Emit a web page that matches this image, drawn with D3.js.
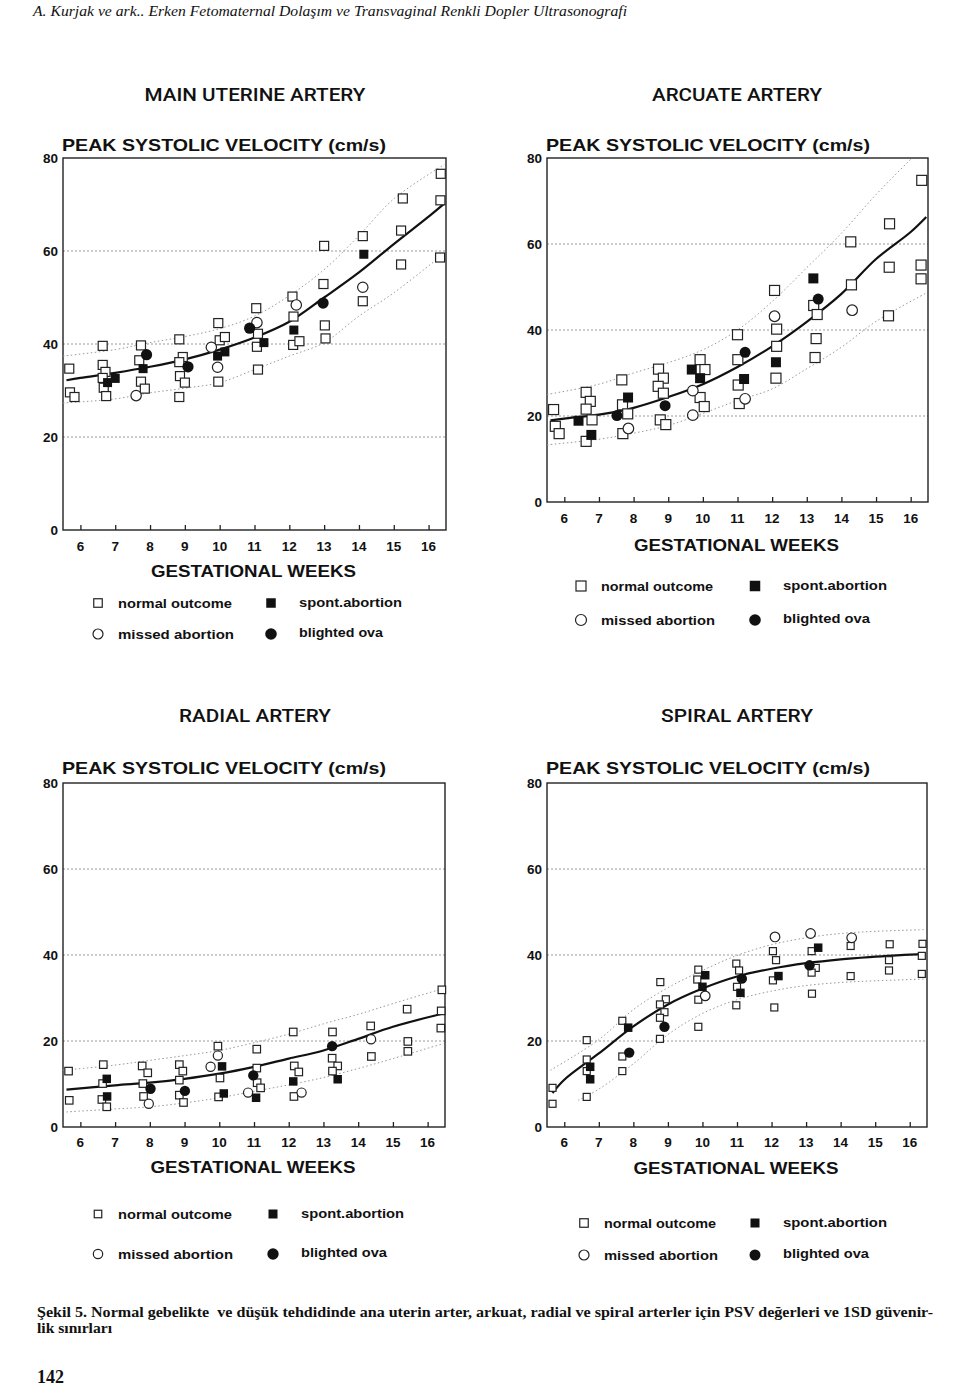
<!DOCTYPE html>
<html>
<head>
<meta charset="utf-8">
<script src="https://cdnjs.cloudflare.com/ajax/libs/d3/7.8.5/d3.min.js"></script>
<style>
  body { margin: 0; background: #fff; }
  svg { display: block; }
  .sans { font-family: "Liberation Sans", Arial, sans-serif; font-weight: bold; fill: #111; }
  .title { font-family: Roboto, "Liberation Sans", sans-serif; font-weight: 500; fill: #111; }
  .serif { font-family: "Liberation Serif", "Times New Roman", serif; fill: #111; white-space: pre; }
</style>
</head>
<body>
<script>
// axis ticks
var weekTicks = [6, 7, 8, 9, 10, 11, 12, 13, 14, 15, 16];
var psvTicks = [0, 20, 40, 60, 80];
var gridTicks = [20, 40, 60];

// MAIN UTERINE ARTERY  [week, cm/s]
var uterineNormal = [[5.68,34.7],[5.7,29.6],[5.83,28.6],[6.64,39.6],[6.64,35.5],[6.72,34.0],[6.64,32.7],[6.67,30.6],[6.74,28.8],
  [7.74,39.7],[7.69,36.5],[7.74,31.9],[7.85,30.4],[8.84,41.0],[8.94,37.2],[8.84,36.1],[8.86,33.1],[9.0,31.7],[8.84,28.6],
  [9.96,44.5],[10.0,40.8],[10.15,41.5],[9.96,31.9],[11.05,47.7],[11.1,42.2],[11.07,39.4],[11.1,34.5],
  [12.09,50.2],[12.12,45.9],[12.11,39.8],[12.29,40.6],[13.0,61.1],[12.98,52.9],[13.02,44.0],[13.04,41.2],
  [14.11,63.2],[14.11,49.2],[15.26,71.3],[15.21,64.4],[15.21,57.1],[16.35,76.6],[16.34,70.9],[16.33,58.6]];
var uterineMissed = [[7.6,28.9],[9.76,39.3],[9.94,35.0],[11.07,44.6],[12.2,48.4],[14.11,52.2]];
var uterineSpont = [[6.78,31.7],[7.0,32.6],[7.8,34.7],[9.94,37.4],[10.15,38.3],[11.27,40.3],[12.13,43.0],[14.14,59.3]];
var uterineBlighted = [[7.9,37.7],[9.09,35.1],[10.86,43.4],[12.97,48.8]];
var uterineFit = [[5.6,32.2],[6,32.7],[7,33.8],[8,35.1],[9,36.7],[10,38.8],[11,41.4],[12,44.8],[13,50.0],[14,55.4],[15,61.5],[16,67.4],[16.45,70.2]];
var uterineUpper = [[5.5,37.4],[7,38.8],[8,40.3],[9,41.6],[10,43.3],[11,46.0],[12,50.4],[13,56.0],[14,63.3],[15,71.2],[16.45,78.6]];
var uterineLower = [[5.5,27.3],[7,28.2],[8,29.5],[9,30.5],[10,31.7],[11,34.5],[12,37.4],[13,40.3],[14,46.0],[15,51.0],[16.45,59.5]];

// ARCUATE ARTERY
var arcuateNormal = [[5.69,21.5],[5.74,17.6],[5.85,15.9],[6.63,25.5],[6.75,23.4],[6.63,21.6],[6.8,19.1],[6.63,14.1],
  [7.66,28.4],[7.68,22.6],[7.83,20.5],[7.69,15.9],[8.72,30.9],[8.86,28.8],[8.71,26.9],[8.86,25.3],[8.77,19.1],[8.93,18.0],
  [9.92,33.1],[10.06,30.8],[9.92,24.3],[10.04,22.2],[11.0,38.9],[11.01,33.1],[11.02,27.2],[11.05,22.9],
  [12.07,49.2],[12.13,40.2],[12.13,36.2],[12.11,28.8],[13.2,45.7],[13.3,43.6],[13.27,38.0],[13.24,33.6],
  [14.27,60.5],[14.29,50.5],[15.39,64.7],[15.38,54.6],[15.36,43.3],[16.32,74.8],[16.3,55.1],[16.3,51.9]];
var arcuateMissed = [[7.85,17.1],[9.71,25.9],[9.71,20.2],[11.22,24.0],[12.07,43.2],[14.31,44.6]];
var arcuateSpont = [[6.41,18.9],[6.78,15.6],[7.84,24.3],[9.68,30.8],[9.92,28.8],[11.19,28.6],[12.11,32.5],[13.19,52.0]];
var arcuateBlighted = [[7.52,20.1],[8.91,22.4],[11.22,34.8],[13.33,47.2]];
var arcuateFit = [[5.6,19.0],[6,19.4],[7,20.3],[8,21.9],[9,24.4],[10,27.4],[11,31.4],[12,36.2],[13,41.9],[14,48.4],[15,56.5],[16,62.8],[16.45,66.3]];
var arcuateUpper = [[5.5,25.0],[7,27.4],[8,30.0],[9,32.4],[10,35.4],[11,40.0],[12,46.6],[13,54.5],[14,62.5],[15,71.5],[16.1,80.5]];
var arcuateLower = [[5.5,13.3],[7,14.6],[8,16.0],[9,17.8],[10,20.6],[11,23.6],[12,26.3],[13,31.0],[14,36.0],[15,42.0],[16.45,48.6]];

// RADIAL ARTERY
var radialNormal = [[5.66,13.0],[5.68,6.2],[6.66,14.5],[6.64,10.1],[6.62,6.4],[6.76,4.7],[7.78,14.2],[7.94,12.6],[7.8,10.1],[7.82,7.1],
  [8.85,14.5],[8.95,13.0],[8.85,10.9],[8.85,7.4],[8.97,5.7],[9.96,18.8],[10.02,11.4],[9.98,7.0],
  [11.08,18.1],[11.08,13.7],[11.09,10.3],[11.19,9.1],[12.13,22.1],[12.16,14.2],[12.29,12.8],[12.15,7.1],
  [13.26,22.1],[13.25,16.0],[13.41,14.2],[13.26,13.0],[14.36,23.5],[14.38,16.4],[15.41,27.4],[15.43,19.9],[15.43,17.6],
  [16.41,31.9],[16.39,27.0],[16.38,23.0]];
var radialMissed = [[7.97,5.4],[9.75,14.0],[9.96,16.6],[10.83,8.0],[12.37,8.0],[14.37,20.4]];
var radialSpont = [[6.76,11.2],[6.77,7.1],[10.08,14.1],[10.13,7.8],[11.06,6.8],[12.13,10.6],[13.41,11.1]];
var radialBlighted = [[8.02,8.9],[9.01,8.4],[10.98,12.0],[13.25,18.8]];
var radialFit = [[5.6,8.7],[7,9.7],[8,10.3],[9,11.2],[10,12.4],[11,14.0],[12,15.9],[13,17.8],[14,20.5],[15,23.3],[16.45,26.4]];
var radialUpper = [[5.5,13.2],[7,14.4],[8,15.5],[9,16.6],[10,17.8],[11,19.6],[12,21.6],[13,24.0],[14,26.2],[15,28.7],[16.45,32.2]];
var radialLower = [[5.6,3.5],[7,4.2],[8,4.7],[9,5.6],[10,6.8],[11,8.3],[12,9.8],[13,11.5],[14,13.6],[15,15.9],[16.45,19.4]];

// SPIRAL ARTERY
var spiralNormal = [[5.66,9.1],[5.66,5.4],[6.65,20.2],[6.65,15.7],[6.65,13.0],[6.65,7.0],[7.68,24.7],[7.68,16.4],[7.68,13.0],
  [8.78,33.7],[8.94,29.7],[8.77,28.5],[8.9,26.7],[8.77,25.4],[8.77,20.5],[9.88,36.6],[9.85,34.3],[9.88,29.6],[9.88,23.3],
  [10.98,38.0],[11.06,36.4],[11.0,32.6],[10.98,28.3],[12.04,40.9],[12.13,38.8],[12.04,34.1],[12.08,27.8],
  [13.16,40.9],[13.28,37.0],[13.16,35.9],[13.17,31.0],[14.29,42.1],[14.29,35.1],[15.42,42.5],[15.4,38.8],[15.4,36.4],
  [16.37,42.6],[16.35,39.8],[16.35,35.6]];
var spiralMissed = [[10.08,30.5],[12.1,44.2],[13.13,45.0],[14.32,44.0]];
var spiralSpont = [[6.75,14.0],[6.75,11.1],[7.85,23.1],[10.08,35.3],[10.0,32.6],[11.1,31.2],[12.2,35.1],[13.35,41.7]];
var spiralBlighted = [[7.88,17.3],[8.9,23.3],[11.14,34.5],[13.1,37.6]];
var spiralFit = [[5.66,7.9],[6,11.0],[7,17.1],[8,23.4],[9,28.5],[10,32.2],[11,35.0],[12,36.8],[13,38.1],[14,39.0],[15,39.6],[16,40.1],[16.45,40.2]];
var spiralUpper = [[5.6,13.2],[7,20.3],[8,27.3],[9,32.4],[10,36.4],[11,39.9],[12,42.4],[13,44.0],[14,45.0],[15,45.5],[16.45,45.9]];
var spiralLower = [[6.4,6.2],[7,8.8],[8,14.7],[9,21.5],[10,26.4],[11,29.6],[12,31.6],[13,32.9],[14,33.6],[15,34.0],[16.45,34.4]];

var W = 960, H = 1388;
var svg = d3.select('body').append('svg').attr('width', W).attr('height', H);

// page header and caption
svg.append('text').attr('class', 'serif').attr('x', 33).attr('y', 16)
  .style('font-style', 'italic').style('font-size', '15px')
  .attr('textLength', 594).attr('lengthAdjust', 'spacingAndGlyphs')
  .text('A. Kurjak ve ark.. Erken Fetomaternal Dolaşım ve Transvaginal Renkli Dopler Ultrasonografi');
svg.append('text').attr('class', 'serif').attr('x', 37).attr('y', 1317)
  .style('font-weight', 'bold').style('font-size', '15px')
  .attr('textLength', 896).attr('lengthAdjust', 'spacingAndGlyphs')
  .text('Şekil 5. Normal gebelikte  ve düşük tehdidinde ana uterin arter, arkuat, radial ve spiral arterler için PSV değerleri ve 1SD güvenir-');
svg.append('text').attr('class', 'serif').attr('x', 37).attr('y', 1333)
  .style('font-weight', 'bold').style('font-size', '15px')
  .attr('textLength', 75).attr('lengthAdjust', 'spacingAndGlyphs')
  .text('lik sınırları');
svg.append('text').attr('class', 'serif').attr('x', 37).attr('y', 1383)
  .style('font-weight', 'bold').style('font-size', '18px')
  .text('142');

// one panel per artery; layout taken from the scanned page
var panels = [
  { title: 'MAIN UTERINE ARTERY', tx: 255, ty: 101, tl: 221,
    left: 63, right: 446, top: 158, bottom: 530,
    yl: 151, xlab: 551, gw: 577, lg1: 603, lg2: 634, lgx: 98, lgx2: 271, tw1: 114, tw2: 103, tw3: 116, tw4: 84,
    sq: 9, fsq: 9, circ: 5.2, fcirc: 5.6, lsq: 8.5, lfsq: 9.5, lc: 5, lfc: 5.8,
    normal: uterineNormal, missed: uterineMissed, spont: uterineSpont, blighted: uterineBlighted,
    fit: uterineFit, upper: uterineUpper, lower: uterineLower },
  { title: 'ARCUATE ARTERY', tx: 737, ty: 101, tl: 170,
    left: 547, right: 928, top: 158, bottom: 502,
    yl: 151, xlab: 523, gw: 551, lg1: 586, lg2: 620, lgx: 581, lgx2: 755, tw1: 112, tw2: 104, tw3: 114, tw4: 87,
    sq: 10, fsq: 10, circ: 5.3, fcirc: 5.5, lsq: 10, lfsq: 10.5, lc: 5.5, lfc: 5.8,
    normal: arcuateNormal, missed: arcuateMissed, spont: arcuateSpont, blighted: arcuateBlighted,
    fit: arcuateFit, upper: arcuateUpper, lower: arcuateLower },
  { title: 'RADIAL ARTERY', tx: 255, ty: 722, tl: 152,
    left: 63, right: 445, top: 783, bottom: 1127,
    yl: 774, xlab: 1147, gw: 1173, lg1: 1214, lg2: 1254, lgx: 98, lgx2: 273, tw1: 114, tw2: 103, tw3: 115, tw4: 86,
    sq: 7.5, fsq: 8.5, circ: 4.6, fcirc: 5.2, lsq: 7.5, lfsq: 9, lc: 4.7, lfc: 5.7,
    normal: radialNormal, missed: radialMissed, spont: radialSpont, blighted: radialBlighted,
    fit: radialFit, upper: radialUpper, lower: radialLower },
  { title: 'SPIRAL ARTERY', tx: 737, ty: 722, tl: 152,
    left: 547, right: 927, top: 783, bottom: 1127,
    yl: 774, xlab: 1147, gw: 1174, lg1: 1223, lg2: 1255, lgx: 584, lgx2: 755, tw1: 112, tw2: 104, tw3: 114, tw4: 86,
    sq: 7, fsq: 8.5, circ: 4.8, fcirc: 5.2, lsq: 8.5, lfsq: 9, lc: 5, lfc: 5.5,
    normal: spiralNormal, missed: spiralMissed, spont: spiralSpont, blighted: spiralBlighted,
    fit: spiralFit, upper: spiralUpper, lower: spiralLower }
];

function drawPanel(p, i) {
  var x = d3.scaleLinear().domain([5.5, 16.5]).range([p.left, p.right]);
  var y = d3.scaleLinear().domain([0, 80]).range([p.bottom, p.top]);
  var g = svg.append('g');

  g.append('text').attr('class', 'title').attr('x', p.tx).attr('y', p.ty)
    .attr('text-anchor', 'middle').style('font-size', '18px')
    .attr('textLength', p.tl).attr('lengthAdjust', 'spacingAndGlyphs').text(p.title);

  g.append('text').attr('class', 'sans').attr('x', p.left - 1).attr('y', p.yl)
    .style('font-size', '17px').attr('textLength', 324).attr('lengthAdjust', 'spacingAndGlyphs')
    .text('PEAK SYSTOLIC VELOCITY (cm/s)');

  // dotted grid
  g.selectAll('.grid').data(gridTicks).enter().append('line')
    .attr('x1', p.left).attr('x2', p.right)
    .attr('y1', function (d) { return y(d); }).attr('y2', function (d) { return y(d); })
    .attr('stroke', '#9a9a9a').attr('stroke-width', 1).attr('stroke-dasharray', '2,2');

  // frame
  g.append('rect').attr('x', p.left).attr('y', p.top)
    .attr('width', p.right - p.left).attr('height', p.bottom - p.top)
    .attr('fill', 'none').attr('stroke', '#222').attr('stroke-width', 1.4);

  // x axis: inward ticks, labels below
  var xAxis = g.append('g').attr('transform', 'translate(0,' + p.bottom + ')')
    .call(d3.axisTop(x).tickValues(weekTicks).tickSize(5).tickFormat(''));
  xAxis.select('.domain').remove();
  xAxis.selectAll('line').attr('stroke', '#222').attr('stroke-width', 1.3);
  g.selectAll('.xl').data(weekTicks).enter().append('text').attr('class', 'sans')
    .attr('x', function (d) { return x(d); }).attr('y', p.xlab)
    .attr('text-anchor', 'middle').style('font-size', '13.5px').text(function (d) { return d; });

  // y labels
  g.selectAll('.yl').data(psvTicks).enter().append('text').attr('class', 'sans')
    .attr('x', p.left - 5).attr('y', function (d) { return y(d); }).attr('dy', '0.36em')
    .attr('text-anchor', 'end').style('font-size', '13.5px').text(function (d) { return d; });

  g.append('text').attr('class', 'sans').attr('x', (p.left + p.right) / 2 - 1).attr('y', p.gw)
    .attr('text-anchor', 'middle').style('font-size', '17px').style('font-weight', '600')
    .attr('textLength', 205).attr('lengthAdjust', 'spacingAndGlyphs').text('GESTATIONAL WEEKS');

  // clip for curves
  var clipId = 'clip' + i;
  svg.append('clipPath').attr('id', clipId).append('rect')
    .attr('x', p.left).attr('y', p.top).attr('width', p.right - p.left).attr('height', p.bottom - p.top);

  var line = d3.line().x(function (d) { return x(d[0]); }).y(function (d) { return y(d[1]); })
    .curve(d3.curveCatmullRom);
  var curves = g.append('g').attr('clip-path', 'url(#' + clipId + ')');
  [p.upper, p.lower].forEach(function (band) {
    curves.append('path').attr('d', line(band)).attr('fill', 'none')
      .attr('stroke', '#999').attr('stroke-width', 1).attr('stroke-dasharray', '1.5,2.5');
  });
  curves.append('path').attr('d', line(p.fit)).attr('fill', 'none')
    .attr('stroke', '#111').attr('stroke-width', 2.2);

  // points
  var pts = g.append('g');
  pts.selectAll('.n').data(p.normal).enter().append('rect')
    .attr('x', function (d) { return x(d[0]) - p.sq / 2; }).attr('y', function (d) { return y(d[1]) - p.sq / 2; })
    .attr('width', p.sq).attr('height', p.sq)
    .attr('fill', '#fff').attr('stroke', '#222').attr('stroke-width', 1.2);
  pts.selectAll('.m').data(p.missed).enter().append('circle')
    .attr('cx', function (d) { return x(d[0]); }).attr('cy', function (d) { return y(d[1]); })
    .attr('r', p.circ).attr('fill', '#fff').attr('stroke', '#222').attr('stroke-width', 1.2);
  pts.selectAll('.s').data(p.spont).enter().append('rect')
    .attr('x', function (d) { return x(d[0]) - p.fsq / 2; }).attr('y', function (d) { return y(d[1]) - p.fsq / 2; })
    .attr('width', p.fsq).attr('height', p.fsq).attr('fill', '#111');
  pts.selectAll('.b').data(p.blighted).enter().append('circle')
    .attr('cx', function (d) { return x(d[0]); }).attr('cy', function (d) { return y(d[1]); })
    .attr('r', p.fcirc).attr('fill', '#111');

  // legend
  var lg = g.append('g');
  lg.append('rect').attr('x', p.lgx - p.lsq / 2).attr('y', p.lg1 - p.lsq / 2).attr('width', p.lsq).attr('height', p.lsq)
    .attr('fill', '#fff').attr('stroke', '#222').attr('stroke-width', 1.2);
  lg.append('rect').attr('x', p.lgx2 - p.lfsq / 2).attr('y', p.lg1 - p.lfsq / 2)
    .attr('width', p.lfsq).attr('height', p.lfsq).attr('fill', '#111');
  lg.append('circle').attr('cx', p.lgx).attr('cy', p.lg2).attr('r', p.lc)
    .attr('fill', '#fff').attr('stroke', '#222').attr('stroke-width', 1.2);
  lg.append('circle').attr('cx', p.lgx2).attr('cy', p.lg2).attr('r', p.lfc).attr('fill', '#111');
  var items = [
    ['normal outcome', p.lgx + 20, p.lg1, p.tw1],
    ['spont.abortion', p.lgx2 + 28, p.lg1 - 1, p.tw2],
    ['missed abortion', p.lgx + 20, p.lg2, p.tw3],
    ['blighted ova', p.lgx2 + 28, p.lg2 - 2, p.tw4]
  ];
  lg.selectAll('.lt').data(items).enter().append('text').attr('class', 'sans')
    .attr('x', function (d) { return d[1]; }).attr('y', function (d) { return d[2]; }).attr('dy', '0.35em')
    .style('font-size', '13.5px')
    .attr('textLength', function (d) { return d[3]; }).attr('lengthAdjust', 'spacingAndGlyphs')
    .text(function (d) { return d[0]; });
}

panels.forEach(drawPanel);
</script>
</body>
</html>
